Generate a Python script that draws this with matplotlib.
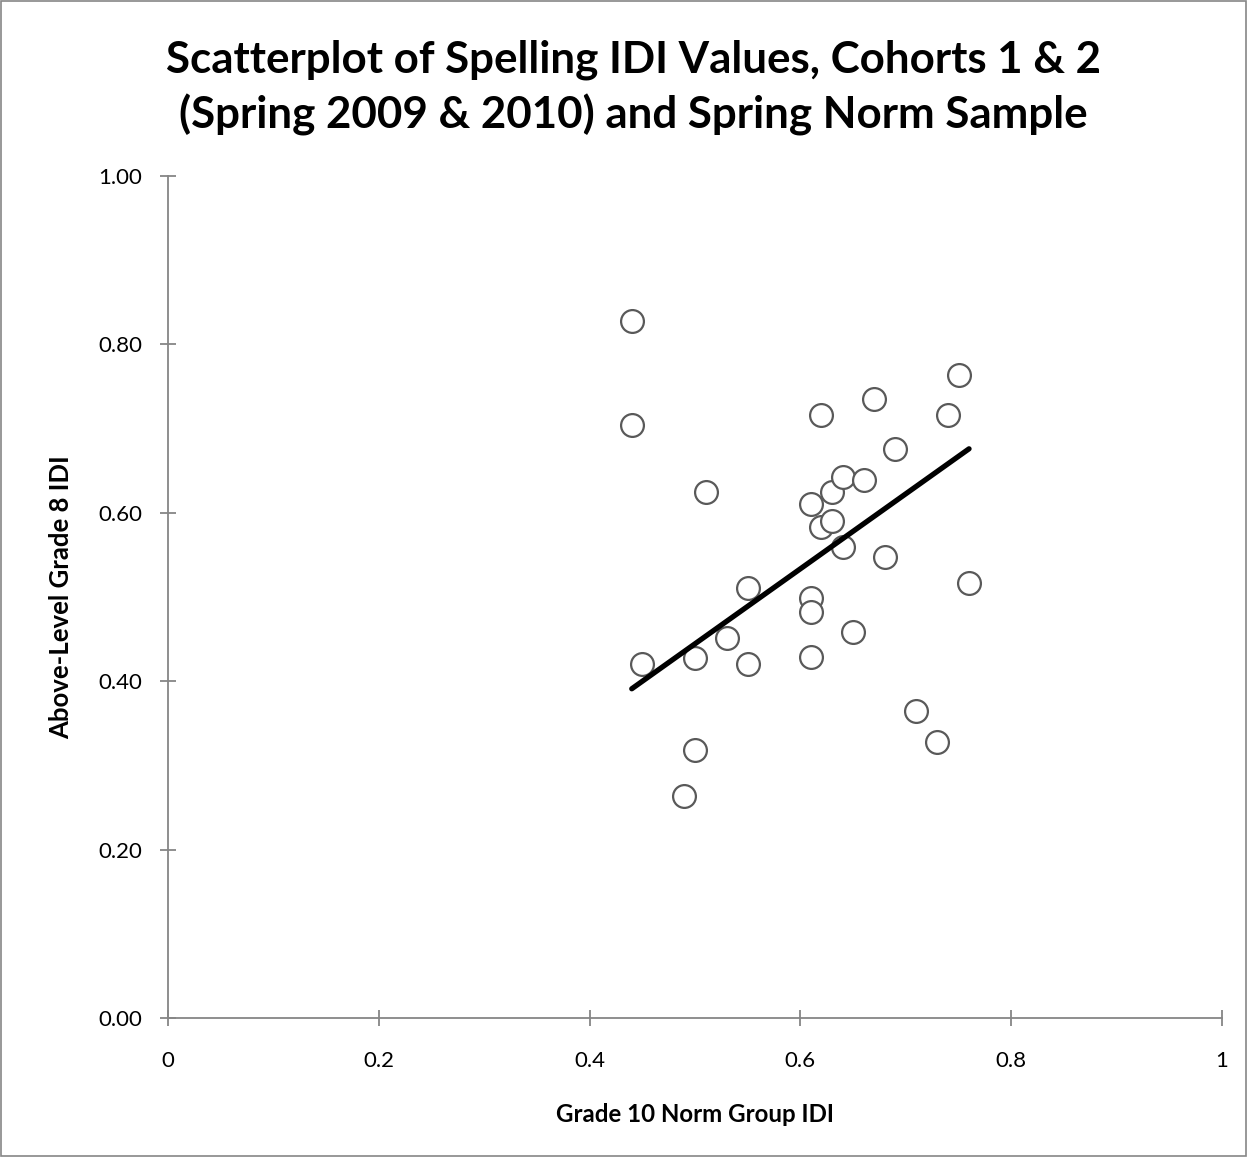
import numpy as np
import matplotlib.pyplot as plt
from matplotlib.patches import Rectangle

plt.rcParams['font.family'] = ['Lato', 'DejaVu Sans']

# Grade 10 norm group IDI (x) and above-level grade 8 IDI (y)
norm_idi = [0.44, 0.44, 0.45, 0.49, 0.50, 0.50, 0.51, 0.53, 0.55, 0.55,
            0.61, 0.61, 0.61, 0.61, 0.62, 0.62, 0.63, 0.63, 0.64, 0.64,
            0.65, 0.66, 0.67, 0.68, 0.69, 0.71, 0.73, 0.74, 0.75, 0.76]
grade8_idi = [0.828, 0.704, 0.420, 0.264, 0.318, 0.428, 0.625, 0.451, 0.511, 0.420,
              0.610, 0.499, 0.482, 0.429, 0.716, 0.583, 0.625, 0.590, 0.643, 0.559,
              0.458, 0.639, 0.735, 0.548, 0.676, 0.365, 0.328, 0.716, 0.764, 0.517]

# trend line as drawn in the original chart (end points)
trend_x = [0.44, 0.76]
trend_y = [0.391, 0.676]

x_ticks = [0, 0.2, 0.4, 0.6, 0.8, 1]
x_labels = ['0', '0.2', '0.4', '0.6', '0.8', '1']
y_ticks = [0, 0.2, 0.4, 0.6, 0.8, 1.0]

title_lines = ['Scatterplot of Spelling IDI Values, Cohorts 1 & 2',
               '(Spring 2009 & 2010) and Spring Norm Sample']

W, H = 1247, 1157
fig = plt.figure(figsize=(W / 100, H / 100), dpi=100)
ax = fig.add_axes([168/W, 1 - 1018/H, (1222-168)/W, (1018-176)/H])

axis_grey = '#868686'

ax.scatter(norm_idi, grade8_idi, s=270, facecolors='white', edgecolors='#595959',
           linewidths=1.6, zorder=3)

ax.plot(trend_x, trend_y, color='black', lw=3.8, solid_capstyle='round', zorder=4)

ax.set_xlim(0, 1)
ax.set_ylim(0, 1)
ax.set_xticks(x_ticks)
ax.set_xticklabels(x_labels)
ax.set_yticks(y_ticks)
ax.set_yticklabels([f'{v:.2f}' for v in y_ticks])

for side in ['top', 'right']:
    ax.spines[side].set_visible(False)
for side in ['left', 'bottom']:
    ax.spines[side].set_color(axis_grey)
    ax.spines[side].set_linewidth(1.3)

ax.tick_params(axis='x', direction='inout', length=11.5, width=1.3, color=axis_grey,
               labelsize=16, pad=18)
ax.tick_params(axis='y', direction='inout', length=11.5, width=1.3, color=axis_grey,
               labelsize=16, pad=13)

ax.set_xlabel('Grade 10 Norm Group IDI', fontsize=17.3, fontweight='bold')
ax.set_ylabel('Above-Level Grade 8 IDI', fontsize=18.5, fontweight='bold')
ax.xaxis.set_label_coords(0.5, (1018 - 1103) / 842)
ax.yaxis.set_label_coords((73 - 168) / 1054, 0.5)

# title, one line at a time on its baseline
for line, base in zip(title_lines, [72, 128]):
    fig.text(633 / W, 1 - base / H, line, ha='center', va='baseline',
             fontsize=31.6, fontweight='bold')

fig.patches.append(Rectangle((0.0005, 0.0005), 0.999, 0.999, transform=fig.transFigure,
                             fill=False, edgecolor=axis_grey, lw=1.2))

fig.savefig('out.png', dpi=100)
